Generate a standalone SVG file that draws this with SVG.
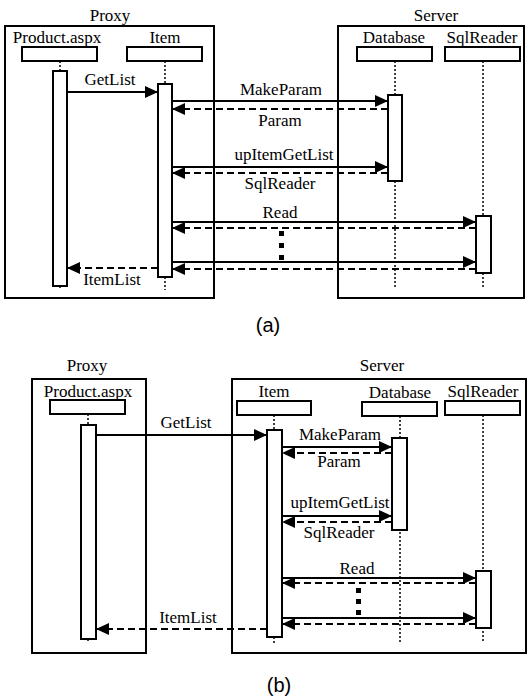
<svg xmlns="http://www.w3.org/2000/svg" width="530" height="696" viewBox="0 0 530 696">
<style>
  .frame{fill:none;stroke:#000;stroke-width:2}
  .box{fill:#fff;stroke:#000;stroke-width:2}
  .life{stroke:#000;stroke-width:1.5;stroke-dasharray:2,2;fill:none}
  .msg{stroke:#000;stroke-width:2;fill:none;marker-end:url(#ah)}
  .ret{stroke:#000;stroke-width:2;fill:none;stroke-dasharray:7,4;marker-end:url(#ah)}
  text{font-family:"Liberation Serif","Times New Roman",serif;font-size:17px;fill:#000;text-anchor:middle}
  text.cap{font-family:"Liberation Sans",Arial,sans-serif;font-size:20px}
</style>
<defs>
  <marker id="ah" markerWidth="13" markerHeight="12" refX="13" refY="6" orient="auto" markerUnits="userSpaceOnUse">
    <path d="M0,0 L13,6 L0,12 z" fill="#000"/>
  </marker>
</defs>

<!-- ===== Diagram (a) ===== -->
<g id="a-proxy">
  <rect class="frame" x="5" y="26" width="209" height="272"/>
  <text x="110" y="21">Proxy</text>
</g>
<g id="a-server">
  <rect class="frame" x="338" y="26" width="186" height="272"/>
  <text x="436" y="21">Server</text>
</g>
<g id="a-product">
  <text x="57" y="43">Product.aspx</text>
  <rect class="box" x="22" y="47" width="75" height="14"/>
  <line class="life" x1="60" y1="61" x2="60" y2="71"/>
  <line class="life" x1="60" y1="286" x2="60" y2="290"/>
  <rect class="box" x="53" y="71" width="14" height="215"/>
</g>
<g id="a-item">
  <text x="165" y="43">Item</text>
  <rect class="box" x="127" y="47" width="75" height="14"/>
  <line class="life" x1="165" y1="61" x2="165" y2="84"/>
  <line class="life" x1="165" y1="277" x2="165" y2="290"/>
  <rect class="box" x="158" y="84" width="14" height="193"/>
</g>
<g id="a-database">
  <text x="394" y="43">Database</text>
  <rect class="box" x="357" y="47" width="75" height="14"/>
  <line class="life" x1="395" y1="61" x2="395" y2="289"/>
  <rect class="box" x="388" y="95" width="14" height="86"/>
</g>
<g id="a-sqlreader">
  <text x="482" y="43">SqlReader</text>
  <rect class="box" x="445" y="47" width="75" height="14"/>
  <line class="life" x1="483" y1="61" x2="483" y2="289"/>
  <rect class="box" x="476" y="216" width="15" height="57"/>
</g>
<g id="a-connectors">
  <line class="msg" x1="67" y1="92" x2="158" y2="92"/>
  <text x="110" y="85">GetList</text>
  <line class="msg" x1="172" y1="101" x2="388" y2="101"/>
  <text x="281" y="95">MakeParam</text>
  <line class="ret" x1="388" y1="109" x2="172" y2="109"/>
  <text x="280" y="126">Param</text>
  <line class="msg" x1="172" y1="167" x2="388" y2="167"/>
  <text x="284" y="160">upItemGetList</text>
  <line class="ret" x1="388" y1="173" x2="172" y2="173"/>
  <text x="280" y="189">SqlReader</text>
  <line class="msg" x1="172" y1="222" x2="476" y2="222"/>
  <text x="280" y="218">Read</text>
  <line class="ret" x1="476" y1="228" x2="172" y2="228"/>
  <rect x="279" y="231" width="5" height="5"/>
  <rect x="279" y="243" width="5" height="5"/>
  <rect x="279" y="255" width="5" height="5"/>
  <line class="msg" x1="172" y1="262" x2="476" y2="262"/>
  <line class="ret" x1="476" y1="269" x2="172" y2="269"/>
  <line class="ret" x1="158" y1="268" x2="67" y2="268"/>
  <text x="112" y="285">ItemList</text>
</g>
<text class="cap" x="268" y="332">(a)</text>

<!-- ===== Diagram (b) ===== -->
<g id="b-proxy">
  <rect class="frame" x="32" y="379" width="114" height="274"/>
  <text x="87" y="371">Proxy</text>
</g>
<g id="b-server">
  <rect class="frame" x="232" y="379" width="294" height="274"/>
  <text x="382" y="371">Server</text>
</g>
<g id="b-product">
  <text x="88" y="397">Product.aspx</text>
  <rect class="box" x="50" y="400" width="75" height="14"/>
  <line class="life" x1="88" y1="414" x2="88" y2="425"/>
  <line class="life" x1="88" y1="639" x2="88" y2="643"/>
  <rect class="box" x="81" y="425" width="15" height="214"/>
</g>
<g id="b-item">
  <text x="274" y="397">Item</text>
  <rect class="box" x="237" y="401" width="74" height="14"/>
  <line class="life" x1="274" y1="415" x2="274" y2="430"/>
  <line class="life" x1="274" y1="637" x2="274" y2="643"/>
  <rect class="box" x="267" y="430" width="15" height="207"/>
</g>
<g id="b-database">
  <text x="400" y="398">Database</text>
  <rect class="box" x="362" y="402" width="75" height="14"/>
  <line class="life" x1="400" y1="416" x2="400" y2="643"/>
  <rect class="box" x="392" y="438" width="15" height="92"/>
</g>
<g id="b-sqlreader">
  <text x="483" y="397">SqlReader</text>
  <rect class="box" x="445" y="401" width="75" height="14"/>
  <line class="life" x1="483" y1="415" x2="483" y2="643"/>
  <rect class="box" x="476" y="571" width="15" height="57"/>
</g>
<g id="b-connectors">
  <line class="msg" x1="96" y1="435" x2="267" y2="435"/>
  <text x="186" y="428">GetList</text>
  <line class="msg" x1="282" y1="447" x2="392" y2="447"/>
  <text x="340" y="440">MakeParam</text>
  <line class="ret" x1="392" y1="453" x2="282" y2="453"/>
  <text x="339" y="467">Param</text>
  <line class="msg" x1="282" y1="516" x2="392" y2="516"/>
  <text x="340" y="508">upItemGetList</text>
  <line class="ret" x1="392" y1="522" x2="282" y2="522"/>
  <text x="339" y="538">SqlReader</text>
  <line class="msg" x1="282" y1="578" x2="476" y2="578"/>
  <text x="357" y="574">Read</text>
  <line class="ret" x1="476" y1="583" x2="282" y2="583"/>
  <rect x="356" y="588" width="5" height="5"/>
  <rect x="356" y="599" width="5" height="5"/>
  <rect x="356" y="610" width="5" height="5"/>
  <line class="msg" x1="282" y1="618" x2="476" y2="618"/>
  <line class="ret" x1="476" y1="624" x2="282" y2="624"/>
  <line class="ret" x1="267" y1="629" x2="96" y2="629"/>
  <text x="188" y="623">ItemList</text>
</g>
<text class="cap" x="279" y="692">(b)</text>
</svg>
